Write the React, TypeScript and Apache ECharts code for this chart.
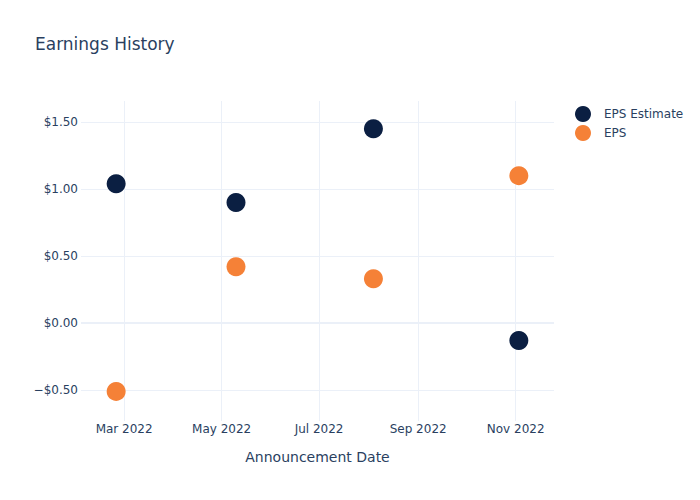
import React, { useEffect, useRef } from "react";
import * as echarts from "echarts";

const dates = ["2022-02-24", "2022-05-10", "2022-08-04", "2022-11-03"];
const epsEstimate = [1.04, 0.9, 1.45, -0.13];
const eps = [-0.51, 0.42, 0.33, 1.1];
const xTickDates = ["2022-03-01", "2022-05-01", "2022-07-01", "2022-09-01", "2022-11-01"];
const yTicks = [-0.5, 0, 0.5, 1.0, 1.5];
const xMinDate = "2022-02-02";
const xMaxDate = "2022-11-25";
const yMin = -0.731;
const yMax = 1.657;

const MONTHS = ["Jan", "Feb", "Mar", "Apr", "May", "Jun", "Jul", "Aug", "Sep", "Oct", "Nov", "Dec"];

function ts(s: string): number {
  const [y, m, d] = s.split("-").map(Number);
  return new Date(y, m - 1, d).getTime();
}

export default function App() {
  const ref = useRef<HTMLDivElement>(null);
  useEffect(() => {
    if (!ref.current) return;
    const chart = echarts.init(ref.current, undefined, { renderer: "svg" });
    const textColor = "#2a3f5f";
    const gridColor = "#EBF0F8";
    const font = "'DejaVu Sans', sans-serif";
    chart.setOption({
      animation: false,
      textStyle: { fontFamily: font },
      title: {
        text: "Earnings History",
        left: 30,
        top: 30,
        textStyle: { fontSize: 17, fontWeight: "normal", color: textColor, fontFamily: font },
      },
      legend: {
        orient: "vertical",
        left: 570,
        top: 101,
        itemWidth: 16,
        itemHeight: 16,
        itemGap: 3,
        icon: "circle",
        textStyle: { fontSize: 12, color: textColor, fontFamily: font, padding: [0, 0, 0, 8] },
        data: ["EPS Estimate", "EPS"],
      },
      grid: { left: 81, right: 146, top: 101, bottom: 79, containLabel: false },
      xAxis: {
        type: "value",
        min: ts(xMinDate),
        max: ts(xMaxDate),
        name: "Announcement Date",
        nameLocation: "middle",
        nameGap: 29,
        nameTextStyle: { fontSize: 14, color: textColor, fontFamily: font },
        axisLine: { show: false },
        axisTick: { show: false, customValues: xTickDates.map(ts) },
        axisLabel: {
          customValues: xTickDates.map(ts),
          color: textColor,
          fontSize: 12,
          margin: 2,
          fontFamily: font,
          formatter: (v: number) => {
            const d = new Date(v);
            return MONTHS[d.getMonth()] + " " + d.getFullYear();
          },
        },
        splitLine: { show: true, lineStyle: { color: gridColor, width: 1 } },
      },
      yAxis: {
        type: "value",
        min: yMin,
        max: yMax,
        axisLine: { show: false },
        axisTick: { show: false, customValues: yTicks },
        axisLabel: {
          customValues: yTicks,
          color: textColor,
          fontSize: 12,
          margin: 3,
          fontFamily: font,
          formatter: (v: number) => (v < 0 ? "\u2212$" : "$") + Math.abs(v).toFixed(2),
        },
        splitLine: { show: true, lineStyle: { color: gridColor, width: 1 } },
      },
      series: [
        {
          name: "EPS Estimate",
          type: "scatter",
          symbolSize: 19,
          itemStyle: { color: "#0b1f42", opacity: 1 },
          data: dates.map((d, i) => [ts(d), epsEstimate[i]]),
          markLine: {
            silent: true,
            symbol: "none",
            label: { show: false },
            lineStyle: { color: gridColor, width: 2, type: "solid" },
            data: [{ yAxis: 0 }],
            z: 0,
          },
          z: 3,
        },
        {
          name: "EPS",
          type: "scatter",
          symbolSize: 19,
          itemStyle: { color: "#f58137", opacity: 1 },
          data: dates.map((d, i) => [ts(d), eps[i]]),
          z: 3,
        },
      ],
    });
    return () => chart.dispose();
  }, []);
  return <div ref={ref} style={{ width: 700, height: 500, margin: -8 }} />;
}
